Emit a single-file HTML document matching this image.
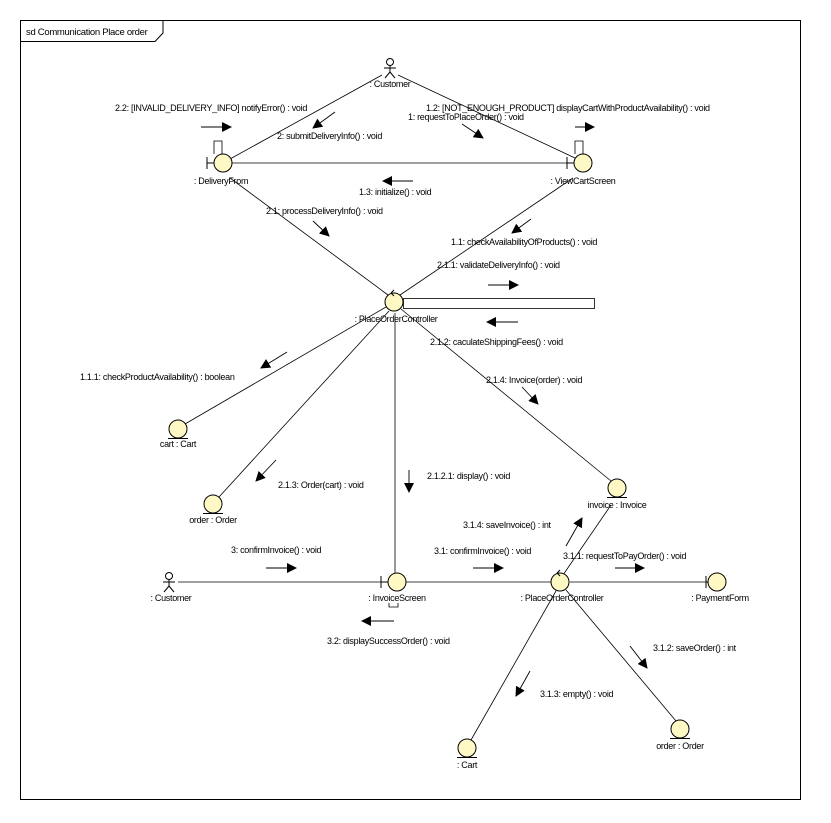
<!DOCTYPE html>
<html><head><meta charset="utf-8"><style>
html,body{margin:0;padding:0;background:#fff;}
svg{display:block}
text{font-family:"Liberation Sans",sans-serif;font-size:9px;fill:#000;letter-spacing:-0.3px}
</style></head><body>
<svg width="831" height="823" xmlns="http://www.w3.org/2000/svg">
<defs>
<marker id="a" markerWidth="10" markerHeight="10" refX="9" refY="5" orient="auto" markerUnits="userSpaceOnUse">
<path d="M0,0 L10,5 L0,10 Z" fill="#000"/></marker>
</defs>
<rect x="20.5" y="20.5" width="780" height="779" fill="none" stroke="#000"/>
<path d="M20.5,41.5 H155 L163,33 V20.5" fill="none" stroke="#000"/>
<text x="26" y="35" style="font-size:9.5px">sd Communication Place order</text>

<g stroke="#000" fill="none" stroke-width="0.8">
<!-- top lines -->
<line x1="382" y1="75" x2="230" y2="159"/>
<line x1="398" y1="75" x2="575" y2="158"/>
<line x1="232" y1="163" x2="573" y2="163"/>
<line x1="230" y1="178" x2="388" y2="295"/>
<line x1="573" y1="178" x2="400" y2="295"/>
<!-- controller lines -->
<line x1="386" y1="307" x2="185" y2="424"/>
<line x1="389" y1="311" x2="219" y2="497"/>
<line x1="395" y1="313" x2="395" y2="573"/>
<line x1="401" y1="309" x2="611" y2="481"/>
<!-- bottom lines -->
<line x1="178" y1="582" x2="381" y2="582"/>
<line x1="406" y1="582" x2="551" y2="582"/>
<line x1="570" y1="582" x2="706" y2="582"/>
<line x1="611" y1="505" x2="563" y2="575"/>
<line x1="556" y1="591" x2="471" y2="740"/>
<line x1="566" y1="590" x2="676" y2="721"/>
<!-- self loops -->
<path d="M214,154 V141 H222 V154"/>
<path d="M575,154 V141 H583 V154"/>
<rect x="403.5" y="298.5" width="191" height="10"/>
<path d="M389,603 V607 H398 V603"/>
</g>

<!-- actors -->
<g stroke="#000" fill="#fff" stroke-width="1">
<circle cx="390" cy="62" r="3.5"/>
<path d="M390,66 V72 M384,68 H396 M390,72 L385,78 M390,72 L395,78" fill="none"/>
<circle cx="169" cy="576" r="3.5"/>
<path d="M169,580 V586 M163,582 H175 M169,586 L164,592 M169,586 L174,592" fill="none"/>
</g>

<!-- nodes -->
<g stroke="#000" fill="#fdf8c4" stroke-width="1">
<circle cx="223" cy="163" r="9"/>
<line x1="214" y1="163" x2="207" y2="163"/><line x1="207" y1="157" x2="207" y2="169"/>
<circle cx="583" cy="163" r="9"/>
<line x1="574" y1="163" x2="567" y2="163"/><line x1="567" y1="157" x2="567" y2="169"/>
<circle cx="394" cy="302" r="9"/>
<path d="M391,293 L394,290 M391,293 L394,296" fill="none"/>
<circle cx="178" cy="429" r="9"/><line x1="168" y1="438.5" x2="188" y2="438.5"/>
<circle cx="213" cy="504" r="9"/><line x1="203" y1="513.5" x2="223" y2="513.5"/>
<circle cx="617" cy="488" r="9"/><line x1="607" y1="497.5" x2="627" y2="497.5"/>
<circle cx="397" cy="582" r="9"/>
<line x1="388" y1="582" x2="381" y2="582"/><line x1="381" y1="576" x2="381" y2="588"/>
<circle cx="560" cy="582" r="9"/>
<path d="M557,573 L560,570 M557,573 L560,576" fill="none"/>
<circle cx="717" cy="582" r="9"/>
<line x1="708" y1="582" x2="706" y2="582"/><line x1="706" y1="576" x2="706" y2="588"/>
<circle cx="467" cy="748" r="9"/><line x1="457" y1="757.5" x2="477" y2="757.5"/>
<circle cx="680" cy="729" r="9"/><line x1="670" y1="738.5" x2="690" y2="738.5"/>
</g>

<!-- message arrows -->
<g stroke="#000" stroke-width="0.9" marker-end="url(#a)">
<line x1="201" y1="127" x2="231" y2="127"/>
<line x1="335" y1="112" x2="313" y2="128"/>
<line x1="462" y1="124" x2="483" y2="138"/>
<line x1="575" y1="127" x2="594" y2="127"/>
<line x1="413" y1="181" x2="383" y2="181"/>
<line x1="313" y1="221" x2="329" y2="236"/>
<line x1="531" y1="219" x2="512" y2="233"/>
<line x1="488" y1="285" x2="518" y2="285"/>
<line x1="518" y1="322" x2="487" y2="322"/>
<line x1="287" y1="352" x2="261" y2="368"/>
<line x1="522" y1="387" x2="538" y2="404"/>
<line x1="276" y1="460" x2="256" y2="481"/>
<line x1="409" y1="470" x2="409" y2="492"/>
<line x1="566" y1="546" x2="582" y2="518"/>
<line x1="266" y1="568" x2="296" y2="568"/>
<line x1="473" y1="568" x2="503" y2="568"/>
<line x1="615" y1="568" x2="644" y2="568"/>
<line x1="394" y1="621" x2="362" y2="621"/>
<line x1="630" y1="646" x2="647" y2="668"/>
<line x1="530" y1="671" x2="516" y2="696"/>
</g>

<!-- labels -->
<text x="390" y="87" text-anchor="middle">: Customer</text>
<text x="221" y="184" text-anchor="middle">: DeliveryFrom</text>
<text x="583" y="184" text-anchor="middle">: ViewCartScreen</text>
<text x="396" y="322" text-anchor="middle">: PlaceOrderController</text>
<text x="178" y="447" text-anchor="middle">cart : Cart</text>
<text x="213" y="523" text-anchor="middle">order : Order</text>
<text x="617" y="508" text-anchor="middle">invoice : Invoice</text>
<text x="171" y="601" text-anchor="middle">: Customer</text>
<text x="397" y="601" text-anchor="middle">: InvoiceScreen</text>
<text x="562" y="601" text-anchor="middle">: PlaceOrderController</text>
<text x="720" y="601" text-anchor="middle">: PaymentForm</text>
<text x="467" y="768" text-anchor="middle">: Cart</text>
<text x="680" y="749" text-anchor="middle">order : Order</text>

<text x="115" y="111">2.2: [INVALID_DELIVERY_INFO] notifyError() : void</text>
<text x="277" y="139">2: submitDeliveryInfo() : void</text>
<text x="426" y="111">1.2: [NOT_ENOUGH_PRODUCT] displayCartWithProductAvailability() : void</text>
<text x="408" y="120">1: requestToPlaceOrder() : void</text>
<text x="359" y="195">1.3: initialize() : void</text>
<text x="266" y="214">2.1: processDeliveryInfo() : void</text>
<text x="451" y="245">1.1: checkAvailabilityOfProducts() : void</text>
<text x="437" y="268">2.1.1: validateDeliveryInfo() : void</text>
<text x="430" y="345">2.1.2: caculateShippingFees() : void</text>
<text x="80" y="380">1.1.1: checkProductAvailability() : boolean</text>
<text x="486" y="383">2.1.4: Invoice(order) : void</text>
<text x="278" y="488">2.1.3: Order(cart) : void</text>
<text x="427" y="479">2.1.2.1: display() : void</text>
<text x="463" y="528">3.1.4: saveInvoice() : int</text>
<text x="231" y="553">3: confirmInvoice() : void</text>
<text x="434" y="554">3.1: confirmInvoice() : void</text>
<text x="563" y="559">3.1.1: requestToPayOrder() : void</text>
<text x="327" y="644">3.2: displaySuccessOrder() : void</text>
<text x="653" y="651">3.1.2: saveOrder() : int</text>
<text x="540" y="697">3.1.3: empty() : void</text>
</svg>
</body></html>
